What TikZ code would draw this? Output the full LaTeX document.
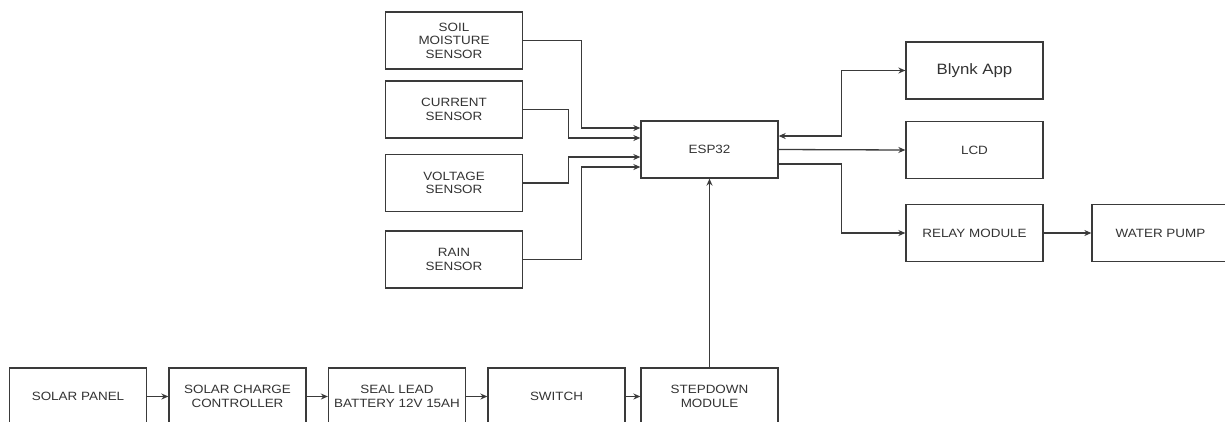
\documentclass[tikz,border=0pt]{standalone}
\usepackage{fontspec}
\setmainfont{Liberation Sans}[FakeStretch=1.12]
\usetikzlibrary{arrows.meta,calc}
\definecolor{ln}{HTML}{3A3A3A}
\definecolor{tx}{HTML}{333333}
\tikzset{
  blk/.style={draw=ln, line width=1.3pt, fill=white, minimum width=137pt, minimum height=57pt,
    inner sep=0pt, align=center, text=tx, font=\fontsize{12}{13.5}\selectfont},
  conn/.style={draw=ln, line width=1.3pt, -{Stealth[length=7pt,width=6pt]}},
  conn2/.style={draw=ln, line width=1.3pt, {Stealth[length=7pt,width=6pt]}-{Stealth[length=7pt,width=6pt]}}
}
\begin{document}
\begin{tikzpicture}[x=1pt,y=-1pt]
\useasboundingbox (0,0) rectangle (1225,421);
\clip (0,0) rectangle (1225,421);
\fill[white] (0,0) rectangle (1225,421);
\node[blk] (soil) at (454,40.5) {SOIL\\MOISTURE\\SENSOR};
\node[blk] (cur) at (454,109.5) {CURRENT\\SENSOR};
\node[blk] (volt) at (454,183) {VOLTAGE\\SENSOR};
\node[blk] (rain) at (454,259.5) {RAIN\\SENSOR};
\node[blk] (esp) at (709.5,149.5) {ESP32};
\node[blk, font=\fontsize{15}{16}\selectfont] (blynk) at (974.5,70.5) {Blynk App};
\node[blk] (lcd) at (974.5,150) {LCD};
\node[blk] (relay) at (974.5,233) {RELAY MODULE};
\node[blk] (pump) at (1160.5,233) {WATER PUMP};
\node[blk] (solar) at (78,396.5) {SOLAR PANEL};
\node[blk] (charge) at (237.5,396.5) {SOLAR CHARGE\\CONTROLLER};
\node[blk] (batt) at (397,396.5) {SEAL LEAD\\BATTERY 12V 15AH};
\node[blk] (sw) at (556.5,396.5) {SWITCH};
\node[blk] (step) at (709.5,396.5) {STEPDOWN\\MODULE};

\draw[conn] (soil.east) -- ++(58,0) |- ([yshift=21.5pt]esp.west);
\draw[conn] (cur.east) -- ++(45,0) |- ([yshift=11.5pt]esp.west);
\draw[conn] (volt.east) -- ++(45,0) |- ([yshift=-7.5pt]esp.west);
\draw[conn] (rain.east) -- ++(58,0) |- ([yshift=-17.5pt]esp.west);

\draw[conn2] ([yshift=13.5pt]esp.east) -- ++(63,0) |- (blynk.west);
\draw[conn] (esp.east) -- (lcd.west);
\draw[conn] ([yshift=-14.5pt]esp.east) -- ++(63,0) |- (relay.west);
\draw[conn] (relay.east) -- (pump.west);

\draw[conn] (step.north) -- (esp.south);
\draw[conn] (solar.east) -- (charge.west);
\draw[conn] (charge.east) -- (batt.west);
\draw[conn] (batt.east) -- (sw.west);
\draw[conn] (sw.east) -- (step.west);
\end{tikzpicture}
\end{document}
